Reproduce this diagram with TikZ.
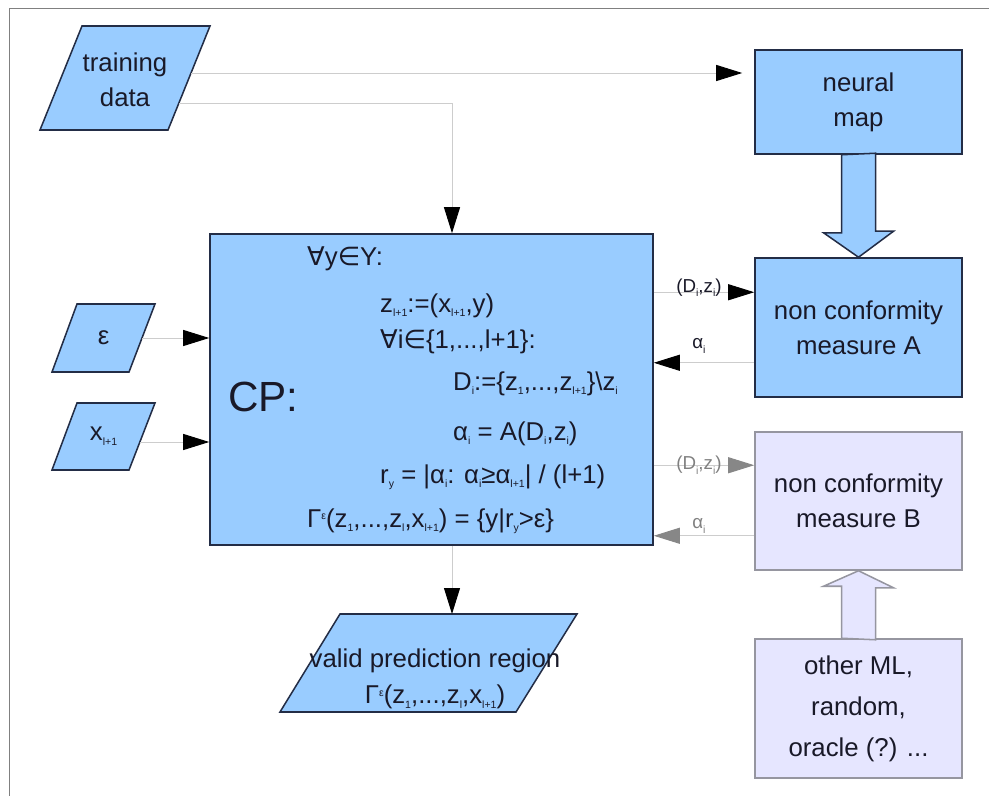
\documentclass[tikz,border=0pt]{standalone}
\usepackage{fontspec}
\setmainfont{Liberation Sans}
\newfontfamily\djvfont{DejaVu Sans}
\usetikzlibrary{arrows.meta}

\definecolor{boxblue}{RGB}{153,204,255}
\definecolor{boxedge}{RGB}{35,45,70}
\definecolor{lavfill}{RGB}{230,230,255}
\definecolor{lavedge}{RGB}{150,150,160}
\definecolor{linkgray}{RGB}{205,205,205}
\definecolor{tipgray}{RGB}{135,135,135}
\definecolor{inkdark}{RGB}{25,25,40}

\newcommand{\lowtxt}[1]{\raisebox{-4pt}{\fontsize{9}{9}\selectfont #1}}
\newcommand{\hightxt}[1]{\raisebox{6pt}{\fontsize{9}{9}\selectfont #1}}
\newcommand{\forallsym}{{\djvfont ∀}}
\newcommand{\insym}{{\djvfont ∈}}

\begin{document}
\begin{tikzpicture}[x=0.03cm, y=-0.03cm, font=\fontsize{22}{30}\selectfont, text=inkdark,
  box/.style={draw=boxedge, fill=boxblue, line width=1.3pt, inner sep=0pt, align=center, minimum width=6.21cm},
  lavbox/.style={box, draw=lavedge, fill=lavfill},
  para/.style={draw=boxedge, fill=boxblue, line width=1.3pt},
  label/.style={inner sep=0pt, align=center},
  link/.style={draw=linkgray, line width=0.8pt, -{Triangle[length=0.78cm, width=0.48cm, color=black]}},
  linkB/.style={draw=linkgray, line width=0.8pt, -{Triangle[length=0.78cm, width=0.48cm, color=tipgray]}},
  dz/.style={font=\fontsize{16}{16}\selectfont, inner sep=0pt},
  cpline/.style={anchor=base west, inner sep=0pt},
  fatA/.style={draw=boxedge, fill=boxblue, line width=1.3pt},
  fatB/.style={draw=lavedge, fill=lavfill, line width=1.3pt}]

\useasboundingbox (0,0) rectangle (989,796);
\draw[gray, line width=0.8pt] (9,796) -- (9,8) -- (989,8);

% inputs
\draw[para] (82,26) -- (210,26) -- (168,130) -- (40,130) -- cycle;
\node[label] (train) at (125,80) {training\\data};
\draw[para] (77,304) -- (155,304) -- (129,372) -- (52,372) -- cycle;
\node[label] (eps) at (103.5,338) {ε};
\draw[para] (77,403) -- (155,403) -- (129,470) -- (52,470) -- cycle;
\node[label] (xin) at (103.5,436.5) {x\lowtxt{l+1}};
\coordinate (trainR1) at (191,73);
\coordinate (trainR2) at (179,103);
\coordinate (epsR) at (142,338);
\coordinate (xinR) at (140,442);

% right column
\node[box, minimum height=3.12cm] (nmap) at (858.5,102) {neural\\map};
\node[box, minimum height=4.17cm] (nca) at (858.5,327.5) {non conformity\\measure A};
\node[lavbox, minimum height=4.14cm] (ncb) at (858.5,501) {non conformity\\measure B};
\node[lavbox, minimum height=4.17cm, font=\fontsize{22}{35}\selectfont] (other) at (858.5,708.5) {other ML,\\random,\\oracle (?) ...};

\draw[fatA] (nmap.south) ++(-17,0) -- ++(0,78) -- ++(-18,0) -- (nca.north) -- ++(35,-26) -- ++(-18,0) -- ++(0,-78) -- cycle;
\draw[fatB] (other.north) ++(-17,0) -- ++(0,-52) -- ++(-18,0) -- (ncb.south) -- ++(35,17) -- ++(-18,0) -- ++(0,52) -- cycle;

% conformal predictor
\node[box, minimum width=13.29cm, minimum height=9.33cm] (cp) at (431.5,389.5) {};
\node[cpline, font=\fontsize{36}{36}\selectfont] (cphead) at (228,411) {CP:};
\node[cpline] (cp1) at (307,265) {\forallsym y\insym Y:};
\node[cpline] (cp2) at (380,312) {z\lowtxt{l+1}:=(x\lowtxt{l+1},y)};
\node[cpline] (cp3) at (380,348) {\forallsym i\insym\{1,...,l+1\}:};
\node[cpline] (cp4) at (453,390) {D\lowtxt{i}:=\{z\lowtxt{1},...,z\lowtxt{l+1}\}\textbackslash z\lowtxt{i}};
\node[cpline] (cp5) at (453,440) {α\lowtxt{i} = A(D\lowtxt{i},z\lowtxt{i})};
\node[cpline] (cp6) at (380,483) {r\lowtxt{y} = |α\lowtxt{i}: α\lowtxt{i}≥α\lowtxt{l+1}| / (l+1)};
\node[cpline] (cp7) at (307,527) {Γ\hightxt{ε}(z\lowtxt{1},...,z\lowtxt{l},x\lowtxt{l+1}) = \{y|r\lowtxt{y}>ε\}};

% output
\draw[para] (340,614) -- (577,614) -- (516,712) -- (280,712) -- cycle;
\node[label, font=\fontsize{22}{31}\selectfont] (valid) at (435,679) {valid prediction region\\Γ\hightxt{ε}(z\lowtxt{1},...,z\lowtxt{l},x\lowtxt{l+1})};
\coordinate (validtop) at (452,614);

% connectors
\path (cp.north) ++(20.5,0) coordinate (cptop);
\path (cp.south) ++(20.5,0) coordinate (cpbot);
\path (nca.north west) ++(0,35) coordinate (ain);
\path (nca.south west) ++(0,-35) coordinate (aout);
\path (ncb.north west) ++(0,34) coordinate (bin);
\path (ncb.south west) ++(0,-35) coordinate (bout);

\draw[link, shorten >=0.36cm] (trainR1) -- (nmap.west |- trainR1);
\draw[link] (trainR2) -| (cptop);
\draw[link] (epsR) -- (cp.west |- epsR);
\draw[link] (xinR) -- (cp.west |- xinR);
\draw[link] (cpbot) -- (validtop);

\draw[link] (cp.east |- ain) -- (ain) node[dz, pos=0.45, yshift=0.14cm] (dzA) {(D\lowtxt{i},z\lowtxt{i})};
\draw[link] (aout) -- (cp.east |- aout) node[dz, pos=0.55, yshift=0.5cm] (alA) {α\lowtxt{i}};
\draw[linkB] (cp.east |- bin) -- (bin) node[dz, pos=0.45, text=gray] (dzB) {(D\lowtxt{i},z\lowtxt{i})};
\draw[linkB] (bout) -- (cp.east |- bout) node[dz, pos=0.55, yshift=0.3cm, text=gray] (alB) {α\lowtxt{i}};
\end{tikzpicture}
\end{document}
